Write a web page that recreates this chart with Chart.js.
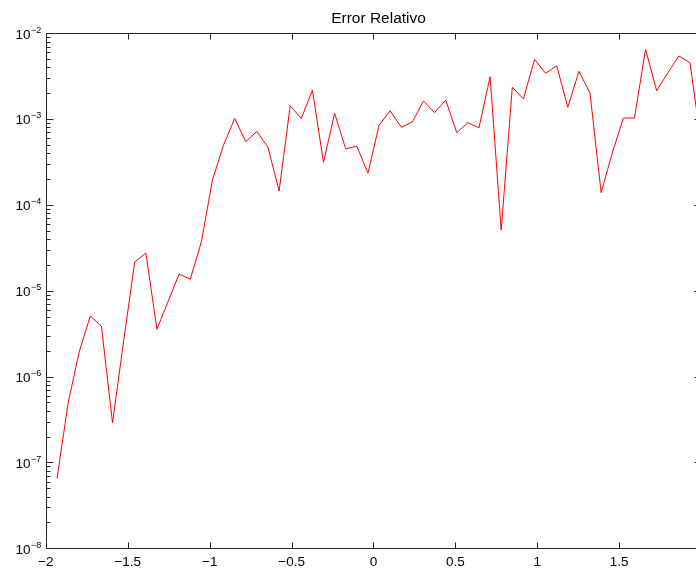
<!DOCTYPE html>
<html>
<head>
<meta charset="utf-8">
<script src="https://cdn.jsdelivr.net/npm/chart.js@4.4.1/dist/chart.umd.min.js"></script>
<style>
  html, body { margin: 0; padding: 0; background: #fff; overflow: hidden; }
  #wrap { width: 696px; height: 569px; }
</style>
</head>
<body>
<div id="wrap"><canvas id="errChart" width="696" height="569"></canvas></div>
<script>
// puntos de la malla (x) y error relativo
const xValues = [
  -1.9322, -1.8644, -1.7966, -1.7288, -1.6610, -1.5932, -1.5254, -1.4576, -1.3898, -1.3220,
  -1.2542, -1.1864, -1.1186, -1.0508, -0.9831, -0.9153, -0.8475, -0.7797, -0.7119, -0.6441,
  -0.5763, -0.5085, -0.4407, -0.3729, -0.3051, -0.2373, -0.1695, -0.1017, -0.0339, 0.0339,
  0.1017, 0.1695, 0.2373, 0.3051, 0.3729, 0.4407, 0.5085, 0.5763, 0.6441, 0.7119,
  0.7797, 0.8475, 0.9153, 0.9831, 1.0508, 1.1186, 1.1864, 1.2542, 1.3220, 1.3898,
  1.4576, 1.5254, 1.5932, 1.6610, 1.7288, 1.7966, 1.8644, 1.9322, 2.0000
];
const errValues = [
  6.5e-8, 4.9e-7, 1.95e-6, 5.1e-6, 3.85e-6, 2.9e-7, 2.6e-6, 2.16e-5, 2.76e-5, 3.56e-6,
  7.5e-6, 1.57e-5, 1.36e-5, 3.73e-5, 1.95e-4, 5.0e-4, 1.02e-3, 5.46e-4, 7.2e-4, 4.7e-4,
  1.45e-4, 1.43e-3, 1.02e-3, 2.18e-3, 3.14e-4, 1.17e-3, 4.49e-4, 4.86e-4, 2.34e-4, 8.47e-4,
  1.25e-3, 8.03e-4, 9.26e-4, 1.63e-3, 1.19e-3, 1.67e-3, 6.95e-4, 9.08e-4, 7.94e-4, 3.12e-3,
  5.1e-5, 2.35e-3, 1.72e-3, 4.95e-3, 3.42e-3, 4.19e-3, 1.37e-3, 3.61e-3, 2.0e-3, 1.39e-4,
  4.03e-4, 1.03e-3, 1.03e-3, 6.51e-3, 2.14e-3, 3.45e-3, 5.44e-3, 4.54e-3, 5.27e-4
];
const xTicks = [-2, -1.5, -1, -0.5, 0, 0.5, 1, 1.5, 2];
const yDecades = [-8, -7, -6, -5, -4, -3, -2];
const chartTitle = 'Error Relativo';

const FONT = '"Liberation Sans", Arial, Helvetica, sans-serif';
const AXIS_COLOR = '#262626';

const points = xValues.map((x, i) => ({ x: x, y: errValues[i] }));

// ejes estilo MATLAB: caja, marcas hacia dentro, título y etiquetas 10^n
// (la figura original está recortada a la derecha: el eje x=2 cae fuera del lienzo)
const matlabAxes = {
  id: 'matlabAxes',
  afterDraw(chart) {
    const ctx = chart.ctx;
    const a = chart.chartArea;
    const xs = chart.scales.x;
    const ys = chart.scales.y;
    const L = Math.round(a.left) + 0.5;
    const R = Math.round(xs.getPixelForValue(2)) + 0.5;
    const T = Math.round(a.top) + 0.5, B = Math.round(a.bottom) + 0.5;
    ctx.save();
    ctx.strokeStyle = AXIS_COLOR;
    ctx.lineWidth = 1;
    ctx.strokeRect(L, T, R - L, B - T);
    ctx.beginPath();
    xTicks.forEach(v => {
      const px = Math.round(xs.getPixelForValue(v)) + 0.5;
      ctx.moveTo(px, B); ctx.lineTo(px, B - 6);
      ctx.moveTo(px, T); ctx.lineTo(px, T + 6);
    });
    yDecades.forEach(e => {
      for (let m = 1; m <= 9; m++) {
        if (e === -2 && m > 1) break;
        const py = Math.round(ys.getPixelForValue(m * Math.pow(10, e))) + 0.5;
        const len = m === 1 ? 7 : 4;
        ctx.moveTo(L, py); ctx.lineTo(L + len, py);
        ctx.moveTo(R, py); ctx.lineTo(R - len, py);
      }
    });
    ctx.stroke();

    ctx.fillStyle = '#000';
    ctx.textBaseline = 'alphabetic';
    ctx.font = '15.5px ' + FONT;
    ctx.textAlign = 'center';
    ctx.fillText(chartTitle, (L + R) / 2 + 4.5, 22.7);
    yDecades.forEach(e => {
      const py = ys.getPixelForValue(Math.pow(10, e));
      ctx.font = '13.5px ' + FONT;
      ctx.textAlign = 'right';
      ctx.fillText('10', 30.5, py + 5.3);
      ctx.font = '9px ' + FONT;
      ctx.textAlign = 'left';
      ctx.fillText('\u2212' + Math.abs(e), 31, py - 0.8);
    });
    ctx.restore();
  }
};

const ctx = document.getElementById('errChart').getContext('2d');
new Chart(ctx, {
  type: 'line',
  data: {
    datasets: [{
      label: chartTitle,
      data: points,
      borderColor: '#ff0000',
      borderWidth: 1,
      pointRadius: 0,
      tension: 0,
      fill: false
    }]
  },
  options: {
    responsive: false,
    animation: false,
    layout: { padding: { left: 0, right: 0, top: 33.3, bottom: 0 } },
    plugins: {
      legend: { display: false },
      tooltip: { enabled: false },
      title: { display: false }
    },
    scales: {
      x: {
        type: 'linear',
        min: -2,
        max: 1.969,
        grid: { display: false, drawTicks: false },
        border: { display: false },
        afterBuildTicks: scale => { scale.ticks = xTicks.map(v => ({ value: v })); },
        afterFit: scale => {
          scale.height = 20.7;
          scale.paddingLeft = 0;
          scale.paddingRight = 0;
        },
        ticks: {
          padding: 6,
          maxRotation: 0,
          autoSkip: false,
          color: '#000',
          font: { family: FONT, size: 13.5 },
          callback: v => String(v).replace('-', '\u2212')
        }
      },
      y: {
        type: 'logarithmic',
        min: 1e-8,
        max: 1e-2,
        grid: { display: false, drawTicks: false },
        border: { display: false },
        afterFit: scale => { scale.width = 45.9; },
        ticks: { display: false }
      }
    }
  },
  plugins: [matlabAxes]
});
</script>
</body>
</html>
